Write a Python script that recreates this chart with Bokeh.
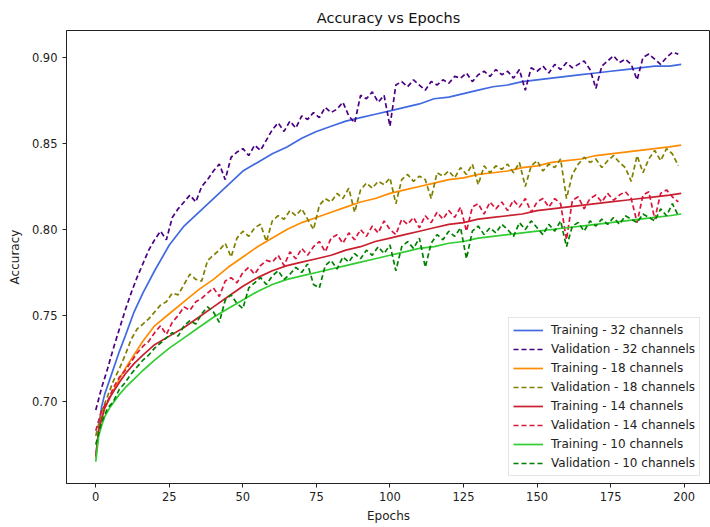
from bokeh.plotting import figure
from bokeh.models import Range1d, FixedTicker, PrintfTickFormatter, Legend, LegendItem
from bokeh.embed import file_html
from bokeh.resources import INLINE

# Epochs at which the (smooth) training curves are sampled
train_epochs = [0, 1, 2, 3, 5, 8, 10, 13, 16, 20, 25, 30, 35, 40, 45, 50, 55, 60, 65, 70,
                75, 80, 85, 90, 95, 100, 105, 110, 115, 120, 125, 130, 135, 140, 145, 150,
                155, 160, 165, 170, 175, 180, 185, 190, 195, 199]
# Validation curves are sampled every second epoch
val_epochs = list(range(0, 200, 2))

train_32 = [0.668, 0.684, 0.697, 0.704, 0.714, 0.729, 0.738, 0.752, 0.763, 0.776,
            0.791, 0.802, 0.810, 0.818, 0.826, 0.834, 0.839, 0.844, 0.848, 0.853,
            0.857, 0.860, 0.863, 0.865, 0.867, 0.869, 0.871, 0.873, 0.876, 0.877,
            0.879, 0.881, 0.883, 0.884, 0.886, 0.887, 0.888, 0.889, 0.890, 0.891,
            0.892, 0.893, 0.894, 0.895, 0.895, 0.896]
train_18 = [0.667, 0.683, 0.690, 0.696, 0.703, 0.713, 0.719, 0.727, 0.735, 0.744,
            0.751, 0.758, 0.765, 0.771, 0.778, 0.784, 0.790, 0.795, 0.800, 0.804,
            0.807, 0.810, 0.813, 0.816, 0.818, 0.821, 0.823, 0.825, 0.827, 0.829,
            0.830, 0.832, 0.833, 0.834, 0.836, 0.837, 0.839, 0.840, 0.841, 0.843,
            0.844, 0.845, 0.846, 0.847, 0.848, 0.849]
train_14 = [0.668, 0.683, 0.690, 0.696, 0.703, 0.711, 0.716, 0.722, 0.727, 0.733,
            0.738, 0.743, 0.749, 0.755, 0.761, 0.767, 0.772, 0.776, 0.779, 0.781,
            0.783, 0.785, 0.788, 0.790, 0.793, 0.795, 0.797, 0.799, 0.801, 0.803,
            0.804, 0.806, 0.807, 0.808, 0.809, 0.811, 0.812, 0.813, 0.814, 0.815,
            0.816, 0.817, 0.818, 0.819, 0.820, 0.821]
train_10 = [0.665, 0.680, 0.686, 0.691, 0.697, 0.704, 0.708, 0.713, 0.718, 0.724,
            0.731, 0.737, 0.743, 0.749, 0.754, 0.759, 0.764, 0.768, 0.771, 0.773,
            0.775, 0.777, 0.779, 0.781, 0.783, 0.785, 0.787, 0.789, 0.790, 0.792,
            0.793, 0.795, 0.796, 0.797, 0.798, 0.799, 0.800, 0.801, 0.802, 0.803,
            0.804, 0.805, 0.806, 0.807, 0.808, 0.809]

val_32 = [0.695, 0.708, 0.719, 0.731, 0.742, 0.753, 0.763, 0.772, 0.780, 0.788,
          0.794, 0.799, 0.794, 0.807, 0.812, 0.816, 0.820, 0.816, 0.825, 0.829,
          0.834, 0.838, 0.829, 0.842, 0.845, 0.847, 0.843, 0.849, 0.846, 0.852,
          0.858, 0.862, 0.857, 0.863, 0.859, 0.866, 0.864, 0.868, 0.865, 0.871,
          0.868, 0.870, 0.874, 0.866, 0.862, 0.878, 0.876, 0.880, 0.874, 0.878,
          0.860, 0.884, 0.886, 0.883, 0.887, 0.884, 0.881, 0.886, 0.884, 0.887,
          0.885, 0.889, 0.888, 0.891, 0.886, 0.890, 0.892, 0.889, 0.893, 0.890,
          0.892, 0.888, 0.893, 0.881, 0.894, 0.892, 0.895, 0.891, 0.896, 0.893,
          0.897, 0.894, 0.896, 0.898, 0.893, 0.882, 0.895, 0.898, 0.901, 0.897,
          0.899, 0.896, 0.887, 0.900, 0.902, 0.899, 0.896, 0.900, 0.903, 0.902]
val_18 = [0.680, 0.694, 0.703, 0.712, 0.719, 0.727, 0.736, 0.742, 0.745, 0.748,
          0.752, 0.756, 0.758, 0.763, 0.762, 0.768, 0.774, 0.771, 0.770, 0.782,
          0.785, 0.788, 0.792, 0.784, 0.795, 0.799, 0.796, 0.801, 0.803, 0.793,
          0.805, 0.808, 0.806, 0.811, 0.808, 0.812, 0.806, 0.800, 0.814, 0.818,
          0.816, 0.821, 0.818, 0.824, 0.810, 0.823, 0.827, 0.824, 0.828, 0.826,
          0.830, 0.815, 0.829, 0.832, 0.828, 0.831, 0.829, 0.818, 0.833, 0.831,
          0.834, 0.830, 0.836, 0.832, 0.838, 0.826, 0.837, 0.833, 0.837, 0.835,
          0.838, 0.833, 0.839, 0.825, 0.837, 0.840, 0.834, 0.838, 0.836, 0.841,
          0.818, 0.832, 0.838, 0.842, 0.839, 0.841, 0.836, 0.840, 0.843, 0.839,
          0.836, 0.828, 0.843, 0.833, 0.841, 0.846, 0.840, 0.847, 0.844, 0.837]
val_14 = [0.683, 0.695, 0.700, 0.708, 0.714, 0.718, 0.723, 0.728, 0.732, 0.735,
          0.740, 0.744, 0.739, 0.746, 0.750, 0.755, 0.753, 0.758, 0.760, 0.763,
          0.766, 0.761, 0.770, 0.772, 0.769, 0.775, 0.778, 0.774, 0.779, 0.782,
          0.781, 0.785, 0.779, 0.787, 0.783, 0.789, 0.785, 0.790, 0.793, 0.787,
          0.795, 0.797, 0.792, 0.798, 0.794, 0.800, 0.796, 0.802, 0.798, 0.805,
          0.800, 0.797, 0.806, 0.803, 0.807, 0.801, 0.808, 0.804, 0.810, 0.806,
          0.811, 0.807, 0.813, 0.799, 0.813, 0.815, 0.809, 0.816, 0.812, 0.816,
          0.811, 0.817, 0.813, 0.818, 0.810, 0.816, 0.818, 0.813, 0.818, 0.815,
          0.794, 0.817, 0.819, 0.812, 0.818, 0.820, 0.816, 0.821, 0.817, 0.820,
          0.822, 0.818, 0.804, 0.820, 0.822, 0.806, 0.821, 0.823, 0.819, 0.816]
val_10 = [0.675, 0.688, 0.696, 0.700, 0.707, 0.711, 0.716, 0.720, 0.724, 0.727,
          0.731, 0.734, 0.737, 0.740, 0.738, 0.744, 0.747, 0.745, 0.751, 0.755,
          0.752, 0.746, 0.759, 0.762, 0.757, 0.754, 0.766, 0.769, 0.772, 0.768,
          0.773, 0.776, 0.771, 0.774, 0.778, 0.775, 0.780, 0.768, 0.766, 0.779,
          0.782, 0.777, 0.784, 0.781, 0.786, 0.783, 0.788, 0.785, 0.790, 0.786,
          0.791, 0.776, 0.790, 0.793, 0.789, 0.795, 0.778, 0.792, 0.797, 0.794,
          0.799, 0.796, 0.801, 0.783, 0.799, 0.802, 0.797, 0.801, 0.798, 0.803,
          0.800, 0.796, 0.804, 0.800, 0.805, 0.801, 0.797, 0.803, 0.799, 0.805,
          0.790, 0.802, 0.804, 0.799, 0.805, 0.802, 0.806, 0.803, 0.807, 0.803,
          0.808, 0.806, 0.804, 0.809, 0.807, 0.805, 0.812, 0.808, 0.815, 0.808]

x_ticks = [0, 25, 50, 75, 100, 125, 150, 175, 200]
y_ticks = [0.70, 0.75, 0.80, 0.85, 0.90]

series = [
    ("Training - 32 channels", train_epochs, train_32, "#4169e1", "solid"),
    ("Validation - 32 channels", val_epochs, val_32, "#4b0082", "5 3"),
    ("Training - 18 channels", train_epochs, train_18, "#ff8c00", "solid"),
    ("Validation - 18 channels", val_epochs, val_18, "#808000", "5 3"),
    ("Training - 14 channels", train_epochs, train_14, "#c8202e", "solid"),
    ("Validation - 14 channels", val_epochs, val_14, "#dc143c", "5 3"),
    ("Training - 10 channels", train_epochs, train_10, "#32cd32", "solid"),
    ("Validation - 10 channels", val_epochs, val_10, "#008000", "5 3"),
]

FONT = "DejaVu Sans"

p = figure(width=710, height=527, output_backend="svg", toolbar_location=None,
           x_range=Range1d(-9.95, 208.95), y_range=Range1d(0.6523, 0.9157),
           min_border_left=66, min_border_right=0, min_border_top=30, min_border_bottom=44,
           title="Accuracy vs Epochs")

p.title.align = "center"
p.title.text_font = FONT
p.title.text_font_size = "14.5px"
p.title.text_font_style = "normal"
p.title.text_color = "#111111"

p.grid.visible = False
p.outline_line_color = "#222222"
p.outline_line_width = 1
p.background_fill_color = "white"
p.border_fill_color = "white"

for ax in (p.xaxis[0], p.yaxis[0]):
    ax.axis_line_color = "#222222"
    ax.major_tick_line_color = "#222222"
    ax.major_tick_out = 4
    ax.major_tick_in = 0
    ax.minor_tick_line_color = None
    ax.major_label_text_font = FONT
    ax.major_label_text_font_size = "11.5px"
    ax.major_label_text_color = "#222222"
    ax.axis_label_text_font = FONT
    ax.axis_label_text_font_size = "12px"
    ax.axis_label_text_font_style = "normal"
    ax.axis_label_text_color = "#222222"

p.xaxis.ticker = FixedTicker(ticks=x_ticks)
p.yaxis.ticker = FixedTicker(ticks=y_ticks)
p.yaxis.formatter = PrintfTickFormatter(format="%.2f")
p.xaxis.axis_label = "Epochs"
p.yaxis.axis_label = "Accuracy"
p.xaxis.major_label_standoff = 4
p.xaxis.axis_label_standoff = 5
p.yaxis.major_label_standoff = 5
p.yaxis.axis_label_standoff = 7

items = []
for label, xs, ys, color, dash in series:
    r = p.line(xs, ys, line_color=color, line_width=1.7, line_dash=dash)
    items.append(LegendItem(label=label, renderers=[r]))

legend = Legend(items=items, location=(442, 7))
legend.label_text_font = FONT
legend.label_text_font_size = "12px"
legend.label_text_color = "#222222"
legend.label_height = 16
legend.glyph_height = 16
legend.glyph_width = 30
legend.label_standoff = 8
legend.spacing = 3
legend.padding = 4
legend.margin = 0
legend.border_line_color = "#cccccc"
legend.border_line_width = 1
legend.background_fill_color = "white"
legend.background_fill_alpha = 0.85
p.add_layout(legend, "center")

open("out.html", "w").write(file_html(p, INLINE))
